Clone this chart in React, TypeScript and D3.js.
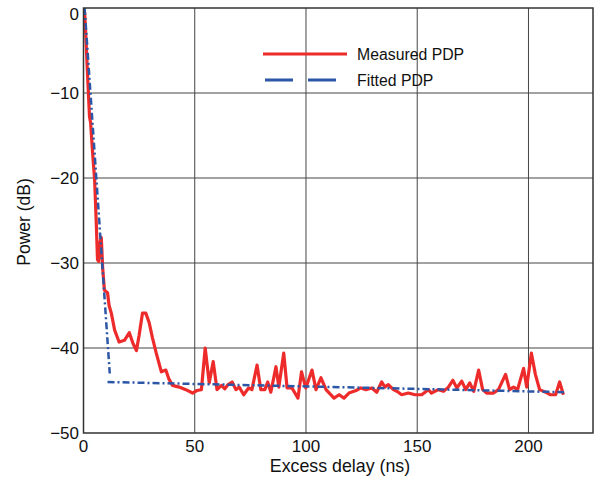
import React from "react";
import { scaleLinear, line } from "d3";

const svgWidth = 598;
const svgHeight = 479;
const margin = { top: 8, right: 5, bottom: 46, left: 83.5 };
const fontFamily = "'Liberation Sans', Arial, Helvetica, sans-serif";

// measured power delay profile (ns, dB)
const measuredDelay = [
  0.5, 1.0, 1.5, 2.2, 2.7, 3.2, 4.0, 5.0, 5.7, 6.3, 6.8, 7.5, 8.0, 8.6, 9.4,
  10.8, 11.5, 12.5, 14.0, 16.0, 18.4, 20.6, 22.3, 23.8, 25.0, 26.5, 28.0, 29.5,
  31.0, 32.7, 35.0, 37.0, 38.3, 40.0, 43.0, 46.0, 49.0, 51.0, 53.0, 54.7, 56.5,
  58.3, 60.0, 62.0, 63.5, 65.0, 66.8, 68.5, 70.0, 72.0, 74.2, 75.7, 78.0, 79.7,
  81.5, 82.8, 84.2, 86.5, 87.8, 90.0, 91.5, 93.7, 96.4, 98.0, 99.9, 102.7,
  104.5, 106.7, 109.0, 112.6, 114.9, 117.1, 119.3, 122.5, 124.7, 126.9, 129.6,
  131.8, 134.0, 135.5, 137.0, 139.3, 141.5, 143.0, 146.0, 149.0, 152.0, 155.0,
  156.4, 159.5, 161.8, 164.0, 166.0, 167.8, 170.0, 171.8, 173.6, 175.4, 177.6,
  179.4, 181.2, 184.3, 186.5, 189.7, 191.5, 193.3, 195.1, 197.8, 199.2, 201.3,
  203.1, 205.0, 207.7, 209.9, 212.2, 214.0, 215.7,
];
const measuredPower = [
  -0.5, -3, -6, -10, -12.8, -13.5, -16.7, -20.2, -25, -29.6, -29.8, -27.5, -27,
  -30.5, -33.2, -33.5, -35, -35.9, -37.9, -39.3, -39.1, -38.2, -39.5, -40.3,
  -38.5, -35.9, -35.9, -37.0, -38.8, -40.6, -42.8, -42.6, -43.6, -44.4, -44.6,
  -44.9, -45.3, -45.0, -44.9, -40.0, -44.1, -41.6, -44.9, -44.4, -44.8, -44.3,
  -44.0, -44.9, -44.6, -45.5, -44.7, -44.9, -42.0, -44.9, -44.9, -44.0, -45.2,
  -42.2, -44.6, -40.6, -44.7, -44.7, -45.9, -42.8, -44.7, -42.6, -44.9, -43.5,
  -44.9, -45.9, -45.5, -45.9, -45.3, -45.0, -44.7, -44.9, -44.7, -45.2, -44.0,
  -44.6, -44.3, -44.9, -45.2, -45.5, -45.3, -45.5, -45.5, -44.9, -45.3, -44.9,
  -45.1, -44.6, -43.8, -44.7, -43.9, -44.9, -44.1, -45.1, -42.6, -44.9, -45.3,
  -45.3, -44.9, -43.1, -44.9, -44.6, -44.9, -42.4, -44.6, -40.6, -43.1, -44.9,
  -45.2, -45.5, -45.5, -44.0, -45.5,
];

// fitted PDP: initial decay and noise floor
const fitDecayDelay = [0.5, 11.8];
const fitDecayPower = [0, -43];
const fitFloorDelay = [10.8, 216];
const fitFloorPower = [-44, -45.2];

const xTicks = [0, 50, 100, 150, 200];
const yTicks = [0, -10, -20, -30, -40, -50];
const legendLabels = ["Measured PDP", "Fitted PDP"];

const red = "#ee2b2b";
const blue = "#2c56a6";

function App() {
  const xScale = scaleLinear()
    .domain([0, 229])
    .range([margin.left, svgWidth - margin.right]);
  const yScale = scaleLinear()
    .domain([-50, 0])
    .range([svgHeight - margin.bottom, margin.top]);

  const path = line<[number, number]>()
    .x((d) => xScale(d[0]))
    .y((d) => yScale(d[1]));

  const measured = measuredDelay.map((d, i) => [d, measuredPower[i]] as [number, number]);
  const decay = fitDecayDelay.map((d, i) => [d, fitDecayPower[i]] as [number, number]);
  const floor = fitFloorDelay.map((d, i) => [d, fitFloorPower[i]] as [number, number]);

  const x0 = xScale(0);
  const x1 = xScale(229);
  const yTop = yScale(0);
  const yBottom = yScale(-50);

  return (
    <svg
      width={svgWidth}
      height={svgHeight}
      style={{ position: "absolute", left: 0, top: 0, background: "#fff" }}
      fontFamily={fontFamily}
    >
      {/* grid */}
      {xTicks.slice(1).map((tick) => (
        <line
          key={`xg${tick}`}
          x1={xScale(tick)}
          x2={xScale(tick)}
          y1={yTop}
          y2={yBottom}
          stroke="#444"
          strokeWidth={1}
        />
      ))}
      {yTicks.slice(1, -1).map((tick) => (
        <line
          key={`yg${tick}`}
          x1={x0}
          x2={x1}
          y1={yScale(tick)}
          y2={yScale(tick)}
          stroke="#444"
          strokeWidth={1}
        />
      ))}

      {/* legend */}
      <line x1={263} x2={347} y1={54} y2={54} stroke={red} strokeWidth={3} />
      <line
        x1={265}
        x2={337}
        y1={80}
        y2={80}
        stroke={blue}
        strokeWidth={3}
        strokeDasharray="28,15"
      />
      <text x={357} y={59.5} fontSize={15.8} fill="#111">
        {legendLabels[0]}
      </text>
      <text x={357} y={85.5} fontSize={15.8} fill="#111">
        {legendLabels[1]}
      </text>

      {/* curves */}
      <path
        d={path(measured) ?? ""}
        fill="none"
        stroke={red}
        strokeWidth={3.2}
        strokeLinejoin="round"
      />
      <path
        d={path(decay) ?? ""}
        fill="none"
        stroke={blue}
        strokeWidth={2.5}
        strokeDasharray="7,3,2,3"
      />
      <path
        d={path(floor) ?? ""}
        fill="none"
        stroke={blue}
        strokeWidth={2.5}
        strokeDasharray="7,3,2,3"
      />

      {/* frame */}
      <rect
        x={x0}
        y={yTop}
        width={x1 - x0}
        height={yBottom - yTop}
        fill="none"
        stroke="#333"
        strokeWidth={1.5}
      />

      {/* y ticks */}
      {yTicks.map((tick) => (
        <text
          key={`yt${tick}`}
          x={79}
          y={tick === 0 ? yScale(tick) + 12 : yScale(tick) + 6}
          textAnchor="end"
          fontSize={17}
          fill="#111"
        >
          {tick === 0 ? "0" : `\u2212${Math.abs(tick)}`}
        </text>
      ))}

      {/* x ticks */}
      {xTicks.map((tick) => (
        <text
          key={`xt${tick}`}
          x={xScale(tick)}
          y={yBottom + 19}
          textAnchor="middle"
          fontSize={17}
          fill="#111"
        >
          {tick}
        </text>
      ))}

      <text x={340} y={472} textAnchor="middle" fontSize={17.8} fill="#111">
        Excess delay (ns)
      </text>
      <text
        transform={`translate(30,222) rotate(-90)`}
        textAnchor="middle"
        fontSize={17.5}
        fill="#111"
      >
        Power (dB)
      </text>
    </svg>
  );
}

export default App;
